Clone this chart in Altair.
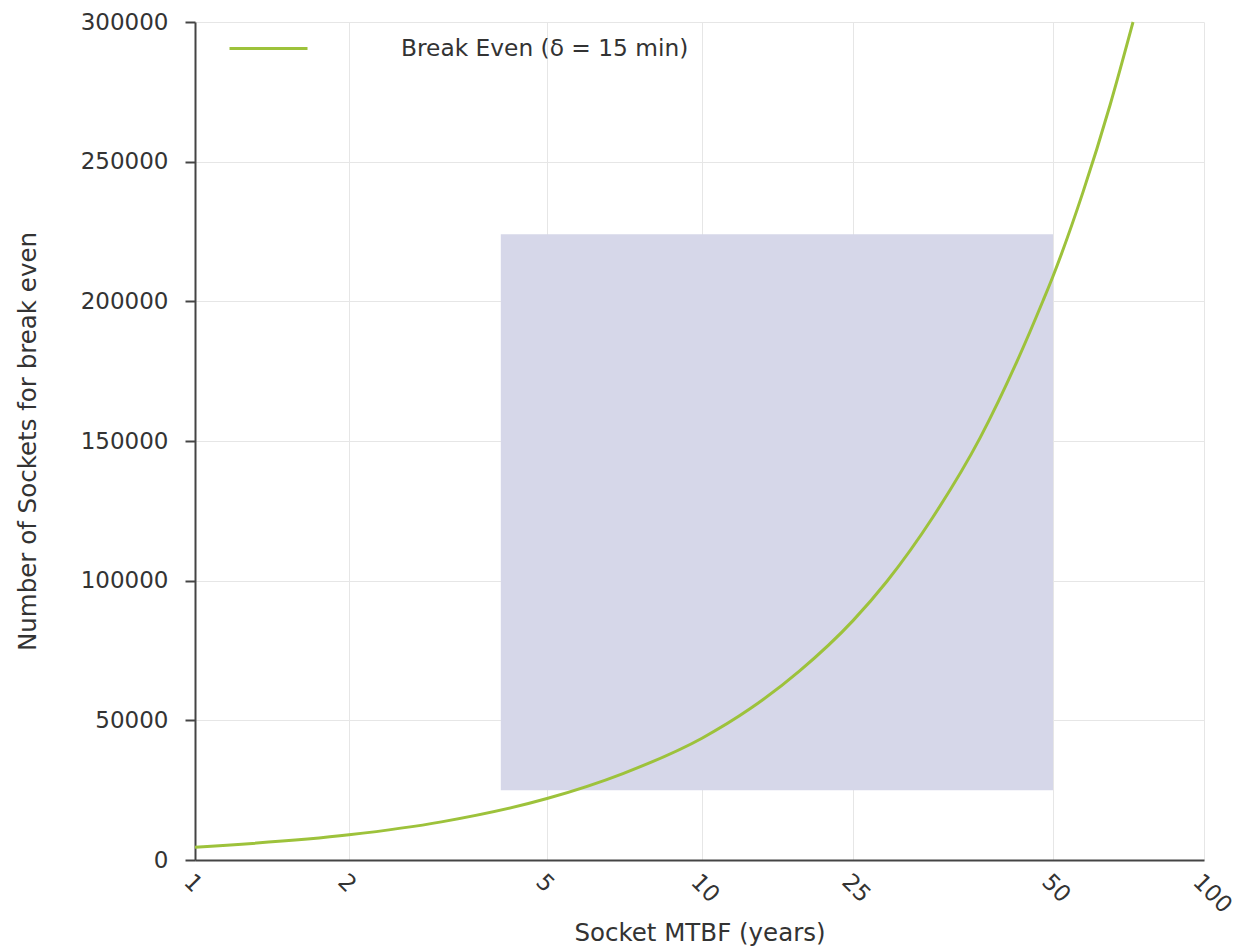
import altair as alt
import pandas as pd

# ---- data ----
mtbf_years = [1, 2, 3.4, 5, 7.45, 10, 14.8, 19.7, 25, 29.25, 35, 40.9, 45.5, 48.75, 50, 59.9, 68.9, 76.5]
sockets_needed = [4600, 9000, 13650, 22000, 30950, 43600, 54200, 67700, 85700, 99800,
                  122800, 151200, 178500, 200200, 209000, 239000, 270300, 300000]
series_name = "Break Even (δ = 15 min)"

tick_years = [1, 2, 5, 10, 25, 50, 100]
y_ticks = [0, 50000, 100000, 150000, 200000, 250000, 300000]

band_years = [4.3, 50]
band_sockets = [25000, 224000]

line_df = pd.DataFrame({"mtbf": mtbf_years, "sockets": sockets_needed, "series": series_name})
band_df = pd.DataFrame({"x0": [band_years[0]], "x1": [band_years[1]],
                        "y0": [band_sockets[0]], "y1": [band_sockets[1]]})

W, H = 1009, 838
FONT = "DejaVu Sans"
LINE_COLOR = "#9dc23b"

xscale = alt.Scale(domain=tick_years, range=[0, 154, 352, 507, 658, 858, 1009],
                   nice=False, zero=False)
yscale = alt.Scale(domain=[0, 300000], nice=False, zero=True)

x_axis = alt.Axis(values=tick_years, title="Socket MTBF (years)", labelAngle=45,
                  ticks=False, labelPadding=10, titlePadding=4, format="d")
y_axis = alt.Axis(values=y_ticks, title="Number of Sockets for break even", format="d",
                  tickSize=10, labelPadding=17, titlePadding=40)

band = alt.Chart(band_df).mark_rect(color="#d6d7e9", opacity=1).encode(
    x=alt.X("x0:Q", scale=xscale, axis=x_axis),
    x2="x1:Q",
    y=alt.Y("y0:Q", scale=yscale, axis=y_axis),
    y2="y1:Q",
)

line = alt.Chart(line_df).mark_line(strokeWidth=3, interpolate="monotone").encode(
    x=alt.X("mtbf:Q", scale=xscale, axis=x_axis),
    y=alt.Y("sockets:Q", scale=yscale, axis=y_axis),
    color=alt.Color("series:N", scale=alt.Scale(range=[LINE_COLOR]),
                    legend=alt.Legend(title=None, orient="none", legendX=33, legendY=-14,
                                      symbolType="stroke", symbolSize=6084,
                                      symbolStrokeWidth=3, labelOffset=92,
                                      labelFont=FONT, labelFontSize=23.3,
                                      labelColor="#333333", labelLimit=0)),
)

chart = alt.layer(band, line).properties(
    width=W, height=H,
    padding={"left": 195, "top": 22, "right": 39, "bottom": 88},
    autosize=alt.AutoSizeParams(type="none"),
).configure_view(stroke=None).configure_axis(
    labelFont=FONT, titleFont=FONT, labelFontSize=23, titleFontSize=24.5,
    labelColor="#333333", titleColor="#333333", titleFontWeight="normal",
    domainColor="#444444", domainWidth=2, tickColor="#444444", tickWidth=2,
    gridColor="#e6e6e6", gridWidth=1, zindex=1,
)

chart.save("out.html", embed_options={"renderer": "svg", "actions": False})
